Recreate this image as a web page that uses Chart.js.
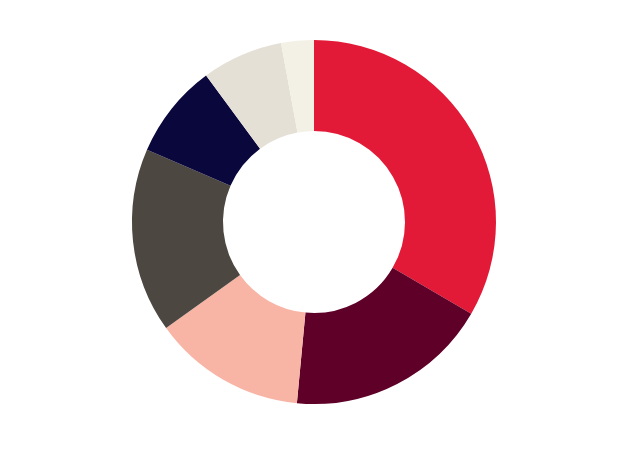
<!DOCTYPE html>
<html>
<head>
<meta charset="utf-8">
<script src="https://cdn.jsdelivr.net/npm/chart.js@4"></script>
<style>
  html, body { margin: 0; padding: 0; background: #fff; }
  #wrap { width: 628px; height: 450px; }
</style>
</head>
<body>
<div id="wrap"><canvas id="chart"></canvas></div>
<script>
const labels = ["A", "B", "C", "D", "E", "F", "G"];
const values = [33.4, 18.1, 13.6, 16.4, 8.4, 7.2, 2.9];
const colors = ["#e31a37", "#5e0028", "#f8b5a5", "#4d4741", "#0a073c", "#e5e0d6", "#f3f0e6"];

new Chart(document.getElementById("chart"), {
  type: "doughnut",
  data: {
    labels,
    datasets: [{ data: values, backgroundColor: colors, borderWidth: 0 }],
  },
  options: {
    responsive: true,
    maintainAspectRatio: false,
    animation: false,
    cutout: "50%",
    layout: { padding: { top: 40, bottom: 46 } },
    plugins: { legend: { display: false }, tooltip: { enabled: false } },
  },
});
</script>
</body>
</html>
